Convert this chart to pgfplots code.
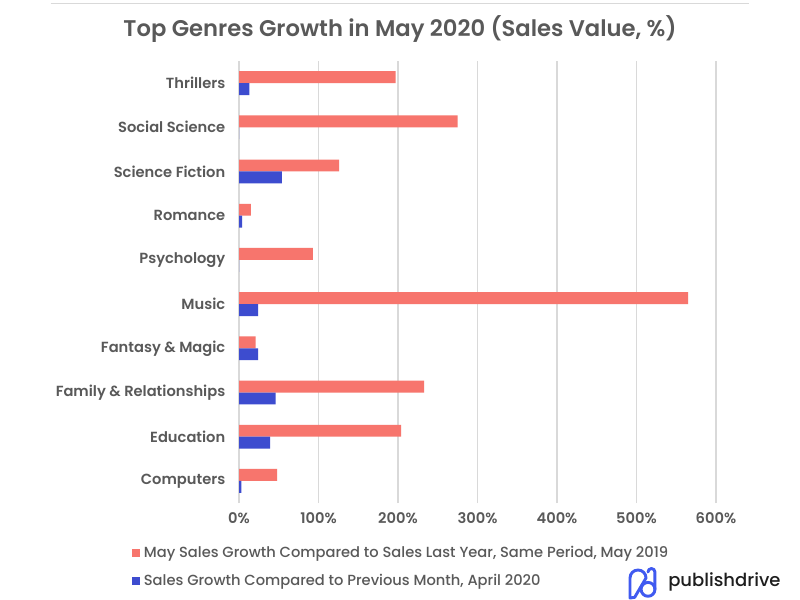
\documentclass[border=0pt]{standalone}
\usepackage{pgfplots}
\pgfplotsset{compat=1.18}
\usepackage{fontspec}
\setmainfont{Poppins}
\newfontfamily\sbfont{Poppins SemiBold}
\newfontfamily\mdfont{Poppins Medium}

\definecolor{salmon}{RGB}{247,117,109}
\definecolor{royal}{RGB}{61,76,207}
\definecolor{txtgray}{RGB}{89,89,89}
\definecolor{gridgray}{RGB}{217,217,217}
\definecolor{logoblue}{RGB}{64,90,240}

\begin{document}
\begin{tikzpicture}
\path[use as bounding box, fill=white] (0,0) rectangle (600pt,450pt);
% thin rule at the top
\draw[gridgray, line width=1pt] (38pt,447.5pt) -- (562pt,447.5pt);
% title
\node[text=txtgray, font=\sbfont\fontsize{17}{20}\selectfont] at (300pt,428.5pt)
  {Top Genres Growth in May 2020 (Sales Value, \%)};

\begin{axis}[
    at={(179.25pt,72.75pt)}, anchor=south west,
    scale only axis,
    width=357.75pt, height=331.5pt,
    xbar, bar width=0.27,
    xmin=0, xmax=600,
    ymin=-0.5, ymax=9.5,
    xtick={0,100,...,600},
    xticklabel={\pgfmathprintnumber{\tick}\%},
    ytick={0,...,9},
    yticklabels={Computers, Education, Family \& Relationships, Fantasy \& Magic, Music, Psychology, Romance, Science Fiction, Social Science, Thrillers},
    xmajorgrids, grid style={gridgray, line width=1.1pt},
    axis line style={draw=none},
    tick style={draw=none},
    /pgf/number format/assume math mode=true,
    ticklabel style={text=txtgray, font=\sbfont\fontsize{11}{13}\selectfont},
    xticklabel style={yshift=-4pt},
    yticklabel style={xshift=-2.5pt},
    legend style={draw=none, fill=none, at={(-0.224,-0.092)}, anchor=north west,
        font=\mdfont\fontsize{11}{13}\selectfont, text=txtgray,
        row sep=7pt, inner sep=0pt,
        nodes={inner xsep=2.6pt}},
    legend cell align=left,
    legend image code/.code={\fill (0pt,-3pt) rectangle (6pt,3pt);},
]
% May 2020 vs May 2019
\addplot[fill=salmon, draw=none, bar shift=0.135] coordinates {
    (48,0) (204,1) (233,2) (21,3) (565,4) (93,5) (15,6) (126,7) (275,8) (197,9)};
% May 2020 vs April 2020
\addplot[fill=royal, draw=none, bar shift=-0.135] coordinates {
    (3,0) (39,1) (46,2) (24,3) (24,4) (0,5) (4,6) (54,7) (0,8) (13,9)};
\legend{{May Sales Growth Compared to Sales Last Year, Same Period, May 2019},
        {Sales Growth Compared to Previous Month, April 2020}}
\end{axis}

% logo
\begin{scope}[logoblue, line width=2.2pt, line cap=round, line join=round]
\draw (472.5pt,1.5pt) -- (472.5pt,16.5pt) arc[start angle=180, end angle=0, radius=6pt]
      -- (476pt,2pt) -- cycle;
\draw (486pt,8pt) circle[radius=5.2pt];
\draw (491.2pt,8pt) -- (491.2pt,21pt) arc[start angle=0, end angle=180, radius=2.6pt];
\end{scope}
\node[anchor=west, inner sep=0pt, text={rgb,255:red,30;green,30;blue,30}, font=\mdfont\fontsize{13.5}{16}\selectfont] at (501pt,13.5pt) {publishdrive};
\end{tikzpicture}
\end{document}
